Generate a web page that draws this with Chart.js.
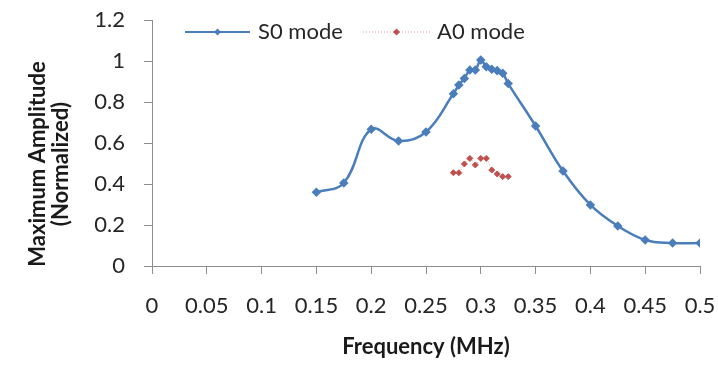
<!DOCTYPE html>
<html>
<head>
<meta charset="utf-8">
<script src="https://cdn.jsdelivr.net/npm/chart.js@4.4.1/dist/chart.umd.min.js"></script>
<style>
  html, body { margin: 0; padding: 0; background: #fff; }
  #wrap { width: 718px; height: 365px; position: relative; }
</style>
</head>
<body>
<div id="wrap"><canvas id="chart"></canvas></div>
<script>
// frequency (MHz) and normalized amplitude
const s0Freq = [0.15, 0.175, 0.2, 0.225, 0.25, 0.275, 0.28, 0.285, 0.29, 0.295, 0.3, 0.305, 0.31, 0.315, 0.32, 0.325, 0.35, 0.375, 0.4, 0.425, 0.45, 0.475, 0.5];
const s0Amp = [0.36, 0.405, 0.667, 0.61, 0.654, 0.84, 0.883, 0.915, 0.956, 0.956, 1.005, 0.972, 0.96, 0.953, 0.94, 0.89, 0.683, 0.463, 0.298, 0.195, 0.127, 0.112, 0.112];
const a0Freq = [0.275, 0.28, 0.285, 0.29, 0.295, 0.3, 0.305, 0.31, 0.315, 0.32, 0.325];
const a0Amp = [0.455, 0.455, 0.498, 0.525, 0.493, 0.525, 0.525, 0.468, 0.449, 0.436, 0.436];
const seriesNames = ['S0 mode', 'A0 mode'];
const yTitle = ['Maximum Amplitude', '(Normalized)'];

const FONT = 'Lato';
const blue = '#4a7ebb';
const red = '#c0504d';
const axisGrey = '#8c8c8c';

const toPoints = (xs, ys) => xs.map((x, i) => ({ x: x, y: ys[i] }));

// legend sits inside the plot area, and the y title sits a bit low, like the Excel original
const excelBits = {
    id: 'excelBits',
    afterDraw(chart) {
        const ctx = chart.ctx;
        const y = 32;
        const items = [
            { x0: 185, x1: 250, tx: 258, ds: chart.data.datasets[0] },
            { x0: 363, x1: 430, tx: 437, ds: chart.data.datasets[1] }
        ];
        ctx.save();
        items.forEach(it => {
            const mx = (it.x0 + it.x1) / 2;
            ctx.strokeStyle = it.ds.borderColor;
            ctx.lineWidth = it.ds.legendLineWidth;
            ctx.setLineDash(it.ds.borderDash || []);
            ctx.beginPath();
            ctx.moveTo(it.x0, y);
            ctx.lineTo(it.x1, y);
            ctx.stroke();
            ctx.setLineDash([]);
            ctx.fillStyle = it.ds.pointBackgroundColor;
            ctx.beginPath();
            ctx.moveTo(mx, y - 3.5);
            ctx.lineTo(mx + 3.5, y);
            ctx.lineTo(mx, y + 3.5);
            ctx.lineTo(mx - 3.5, y);
            ctx.closePath();
            ctx.fill();
            ctx.fillStyle = '#262626';
            ctx.font = '22px ' + FONT;
            ctx.textBaseline = 'middle';
            ctx.textAlign = 'left';
            ctx.fillText(it.ds.label, it.tx, y);
        });

        // y axis title, two lines
        ctx.fillStyle = '#1a1a1a';
        ctx.font = 'bold 22px ' + FONT;
        ctx.textAlign = 'center';
        ctx.textBaseline = 'middle';
        [38, 61].forEach((lx, i) => {
            ctx.save();
            ctx.translate(lx, 164);
            ctx.rotate(-Math.PI / 2);
            ctx.fillText(yTitle[i], 0, 0);
            ctx.restore();
        });
        ctx.restore();
    }
};

new Chart(document.getElementById('chart'), {
    type: 'line',
    data: {
        datasets: [{
            label: seriesNames[0],
            data: toPoints(s0Freq, s0Amp),
            borderColor: blue,
            borderWidth: 2.5,
            legendLineWidth: 2,
            pointStyle: 'rectRot',
            pointRadius: 3,
            pointBackgroundColor: blue,
            pointBorderColor: blue,
            tension: 0.4
        }, {
            label: seriesNames[1],
            data: toPoints(a0Freq, a0Amp),
            borderColor: '#e39a99',
            borderWidth: 1,
            legendLineWidth: 1,
            borderDash: [1, 2],
            pointStyle: 'rectRot',
            pointRadius: 3,
            pointBackgroundColor: red,
            pointBorderColor: red,
            tension: 0.4
        }]
    },
    options: {
        responsive: true,
        maintainAspectRatio: false,
        animation: false,
        layout: { padding: { left: 0, right: 18, top: 20, bottom: 0 } },
        plugins: {
            legend: { display: false },
            tooltip: { enabled: false }
        },
        scales: {
            x: {
                type: 'linear',
                min: 0,
                max: 0.5,
                afterFit: s => { s.height = 99; s.paddingLeft = 0; s.paddingRight = 0; },
                ticks: {
                    stepSize: 0.05,
                    padding: 19,
                    color: '#262626',
                    font: { family: FONT, size: 22 },
                    maxRotation: 0,
                    callback: v => String(+v.toFixed(2))
                },
                grid: { drawOnChartArea: false, drawTicks: true, tickLength: 8, color: axisGrey },
                border: { display: true, color: axisGrey },
                title: {
                    display: true,
                    text: 'Frequency (MHz)',
                    color: '#1a1a1a',
                    font: { family: FONT, size: 22, weight: 'bold', lineHeight: 1 },
                    padding: { top: 0, bottom: 7 }
                }
            },
            y: {
                min: 0,
                max: 1.2,
                afterFit: s => { s.width = 152; s.paddingTop = 0; s.paddingBottom = 0; },
                ticks: {
                    stepSize: 0.2,
                    padding: 19,
                    color: '#262626',
                    font: { family: FONT, size: 22 },
                    callback: v => String(+v.toFixed(1))
                },
                grid: { drawOnChartArea: false, drawTicks: true, tickLength: 8, color: axisGrey },
                border: { display: true, color: axisGrey }
            }
        }
    },
    plugins: [excelBits]
});
</script>
</body>
</html>
